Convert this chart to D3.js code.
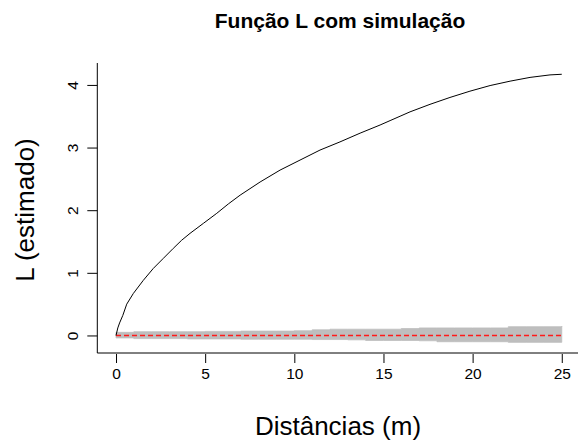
<!DOCTYPE html>
<html>
<head>
<meta charset="utf-8">
<script src="https://cdn.jsdelivr.net/npm/d3@7"></script>
<style>
  html, body { margin: 0; padding: 0; background: #ffffff; }
  svg { display: block; font-family: "Liberation Sans", Arial, sans-serif; }
</style>
</head>
<body>
<svg id="chart" width="578" height="443"></svg>
<script>
// ---- data ----
const title = "Função L com simulação";
const xLabel = "Distâncias (m)";
const yLabel = "L (estimado)";
const xTicks = [0, 5, 10, 15, 20, 25];
const yTicks = [0, 1, 2, 3, 4];

// estimated L curve
const curveX = [0, 0.1, 0.2, 0.38, 0.6, 0.97, 1.53, 2.09, 2.65, 3.21, 3.68, 4.15, 4.9, 5.65, 6.3, 6.96, 8.08, 9.2, 10.32, 11.44, 12.56, 13.69, 14.81, 15.37, 15.93, 16.49, 17.61, 18.73, 19.85, 20.98, 22.1, 23.22, 24.34, 25];
const curveY = [0, 0.12, 0.2, 0.32, 0.5, 0.67, 0.88, 1.07, 1.23, 1.39, 1.52, 1.63, 1.79, 1.95, 2.1, 2.24, 2.45, 2.64, 2.80, 2.96, 3.09, 3.23, 3.36, 3.43, 3.50, 3.57, 3.69, 3.80, 3.90, 3.99, 4.06, 4.12, 4.16, 4.17];

// simulation envelope
const envX  = [0, 1, 2, 3, 4, 5, 6, 7, 8, 9, 10, 11, 12, 13, 14, 15, 16, 17, 18, 19, 20, 21, 22, 23, 24, 25];
const envHi = [0.05, 0.06, 0.06, 0.06, 0.06, 0.065, 0.065, 0.07, 0.07, 0.07, 0.075, 0.09, 0.10, 0.10, 0.10, 0.10, 0.11, 0.12, 0.12, 0.12, 0.12, 0.12, 0.14, 0.14, 0.14, 0.15];
const envLo = [-0.04, -0.05, -0.05, -0.05, -0.055, -0.055, -0.055, -0.06, -0.06, -0.06, -0.06, -0.065, -0.065, -0.07, -0.08, -0.08, -0.08, -0.085, -0.1, -0.1, -0.1, -0.1, -0.11, -0.11, -0.11, -0.11];

// theoretical (zero) line
const refX = [0, 25];
const refY = [0, 0];

// ---- drawing ----
const svg = d3.select("#chart");
const x = d3.scaleLinear().domain([-1.05, 26]).range([97.3, 579.6]);
const y = d3.scaleLinear().domain([-0.28, 4.35]).range([353, 63]);

// envelope
const envData = envX.map((d, i) => ({x: d, hi: envHi[i], lo: envLo[i]}));
svg.append("path")
  .datum(envData)
  .attr("fill", "#bebebe")
  .attr("stroke", "#bebebe")
  .attr("stroke-width", 0.8)
  .attr("d", d3.area().x(d => x(d.x)).y0(d => y(d.lo)).y1(d => y(d.hi)).curve(d3.curveStepAfter));

// reference dashed line
svg.append("path")
  .datum(refX.map((d, i) => [d, refY[i]]))
  .attr("fill", "none")
  .attr("stroke", "#ff1a1a")
  .attr("stroke-width", 1.6)
  .attr("stroke-dasharray", "5,3")
  .attr("d", d3.line().x(d => x(d[0])).y(d => y(d[1])));

// estimated curve
svg.append("path")
  .datum(curveX.map((d, i) => [d, curveY[i]]))
  .attr("fill", "none")
  .attr("stroke", "#000000")
  .attr("stroke-width", 1)
  .attr("d", d3.line().x(d => x(d[0])).y(d => y(d[1])));

// L-shaped box
const x0 = x.range()[0], yb = y.range()[0], yt = y.range()[1];
svg.append("path")
  .attr("d", `M${x0},${yt}V${yb}H578`)
  .attr("fill", "none").attr("stroke", "#000").attr("stroke-width", 1);

// x axis
const xAxis = d3.axisBottom(x).tickValues(xTicks).tickSize(9).tickPadding(5).tickFormat(d3.format("d"));
const gx = svg.append("g").attr("transform", `translate(0,${yb + 1})`).call(xAxis);
gx.select(".domain").remove();
gx.selectAll("text").attr("font-size", 15.5).attr("fill", "#000").attr("font-family", "Liberation Sans, Arial, sans-serif");
gx.selectAll("line").attr("stroke", "#000");

// y axis
const yAxis = d3.axisLeft(y).tickValues(yTicks).tickSize(10).tickFormat(d3.format("d"));
const gy = svg.append("g").attr("transform", `translate(${x0},0)`).call(yAxis);
gy.select(".domain").remove();
gy.selectAll("line").attr("stroke", "#000");
gy.selectAll("text")
  .attr("x", null).attr("dy", null)
  .attr("font-size", 15.5).attr("fill", "#000").attr("font-family", "Liberation Sans, Arial, sans-serif")
  .attr("text-anchor", "middle")
  .attr("transform", "translate(-25,0) rotate(-90)")
  .attr("y", 0).attr("dy", "0.36em");

// titles
svg.append("text")
  .attr("x", 340).attr("y", 28)
  .attr("text-anchor", "middle")
  .attr("font-size", 21).attr("font-weight", "bold")
  .text(title);

svg.append("text")
  .attr("x", 338).attr("y", 435)
  .attr("text-anchor", "middle")
  .attr("font-size", 26)
  .text(xLabel);

svg.append("text")
  .attr("transform", "translate(34,210) rotate(-90)")
  .attr("text-anchor", "middle")
  .attr("font-size", 26)
  .text(yLabel);
</script>
</body>
</html>
